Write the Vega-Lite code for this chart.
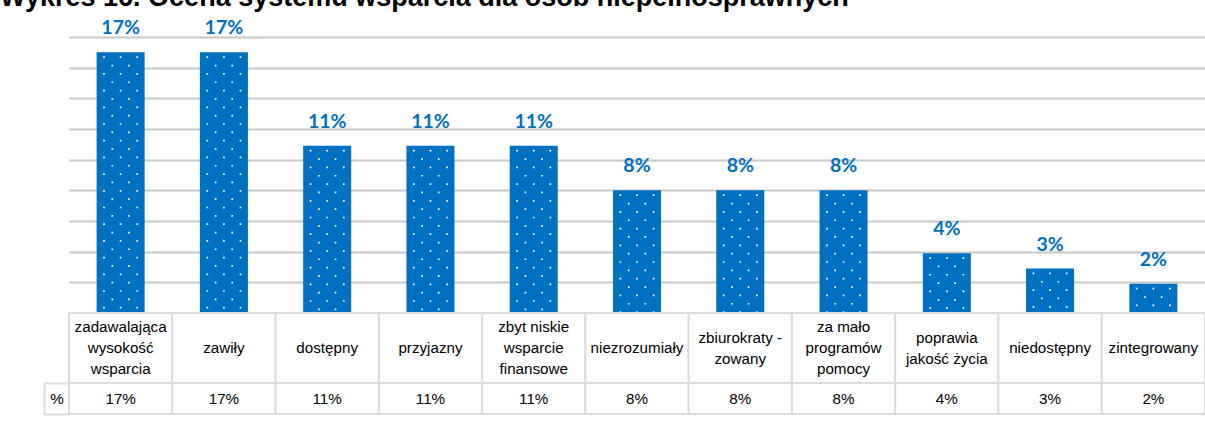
{
  "$schema": "https://vega.github.io/schema/vega-lite/v6.json",
  "padding": {"left": 0, "top": -16, "right": 0, "bottom": 9},
  "bounds": "flush",
  "title": {"text": "Wykres 16. Ocena systemu wsparcia dla osób niepełnosprawnych", "anchor": "start", "font": "Liberation Sans", "fontSize": 27, "fontWeight": "bold", "color": "#000000", "dx": -43, "offset": 6},
  "spacing": 0,
  "config": {"view": {"stroke": null}},
  "datasets": {
    "d": [
      {"kategoria": "zadawalająca|wysokość|wsparcia", "procent": 17, "etykieta": "17%"},
      {"kategoria": "zawiły", "procent": 17, "etykieta": "17%"},
      {"kategoria": "dostępny", "procent": 10.9, "etykieta": "11%"},
      {"kategoria": "przyjazny", "procent": 10.9, "etykieta": "11%"},
      {"kategoria": "zbyt niskie|wsparcie|finansowe", "procent": 10.9, "etykieta": "11%"},
      {"kategoria": "niezrozumiały", "procent": 8, "etykieta": "8%"},
      {"kategoria": "zbiurokraty -|zowany", "procent": 8, "etykieta": "8%"},
      {"kategoria": "za mało|programów|pomocy", "procent": 8, "etykieta": "8%"},
      {"kategoria": "poprawia|jakość życia", "procent": 3.9, "etykieta": "4%"},
      {"kategoria": "niedostępny", "procent": 2.9, "etykieta": "3%"},
      {"kategoria": "zintegrowany", "procent": 1.9, "etykieta": "2%"}
    ]
  },
  "vconcat": [
    {
      "width": 1136,
      "height": 276,
      "data": {"name": "d"},
      "encoding": {
        "x": {"field": "kategoria", "type": "nominal", "sort": null, "scale": {"paddingInner": 0, "paddingOuter": 0}, "axis": null}
      },
      "layer": [
        {
          "mark": {"type": "bar", "color": "#0070C0", "width": {"band": 0.465}},
          "encoding": {
            "y": {"field": "procent", "type": "quantitative", "scale": {"domain": [0, 18], "nice": false},
              "axis": {"values": [2, 4, 6, 8, 10, 12, 14, 16, 18], "tickCount": 10, "grid": true, "labels": false, "ticks": false, "domain": false, "title": null, "labelOverlap": false, "gridColor": "#c8c8c8", "gridWidth": 2}}
          }
        },
        {
          "mark": {"type": "rule", "color": "white", "strokeWidth": 1.7, "strokeDash": [1.7, 15], "strokeDashOffset": 12.7, "xOffset": -16.6},
          "encoding": {"y": {"field": "procent", "type": "quantitative"}, "y2": {"datum": 0}}
        },
        {
          "mark": {"type": "rule", "color": "white", "strokeWidth": 1.7, "strokeDash": [1.7, 15], "strokeDashOffset": 4.35, "xOffset": -8.3},
          "encoding": {"y": {"field": "procent", "type": "quantitative"}, "y2": {"datum": 0}}
        },
        {
          "mark": {"type": "rule", "color": "white", "strokeWidth": 1.7, "strokeDash": [1.7, 15], "strokeDashOffset": 12.7, "xOffset": 0},
          "encoding": {"y": {"field": "procent", "type": "quantitative"}, "y2": {"datum": 0}}
        },
        {
          "mark": {"type": "rule", "color": "white", "strokeWidth": 1.7, "strokeDash": [1.7, 15], "strokeDashOffset": 4.35, "xOffset": 8.3},
          "encoding": {"y": {"field": "procent", "type": "quantitative"}, "y2": {"datum": 0}}
        },
        {
          "mark": {"type": "rule", "color": "white", "strokeWidth": 1.7, "strokeDash": [1.7, 15], "strokeDashOffset": 12.7, "xOffset": 16.6},
          "encoding": {"y": {"field": "procent", "type": "quantitative"}, "y2": {"datum": 0}}
        },
        {
          "mark": {"type": "text", "font": "Lato", "fontSize": 19.5, "fontWeight": "bold", "color": "#0070C0", "baseline": "alphabetic", "dy": -18},
          "encoding": {"y": {"field": "procent", "type": "quantitative"}, "text": {"field": "etykieta"}}
        }
      ]
    },
    {
      "width": 1136,
      "height": 70,
      "data": {"name": "d"},
      "encoding": {
        "x": {"field": "kategoria", "type": "nominal", "sort": null, "scale": {"paddingInner": 0, "paddingOuter": 0}, "axis": null}
      },
      "layer": [
        {"mark": {"type": "rect", "fill": "white", "stroke": "#dcdcdc", "strokeWidth": 2}},
        {
          "transform": [{"filter": "length(split(datum.kategoria, '|')) == 1"}],
          "mark": {"type": "text", "font": "Liberation Sans", "fontSize": 15.2, "lineBreak": "|", "lineHeight": 21, "baseline": "middle", "color": "#000000"},
          "encoding": {"text": {"field": "kategoria"}}
        },
        {
          "transform": [{"filter": "length(split(datum.kategoria, '|')) == 2"}],
          "mark": {"type": "text", "font": "Liberation Sans", "fontSize": 15.2, "lineBreak": "|", "lineHeight": 21, "baseline": "middle", "dy": -10.5, "color": "#000000"},
          "encoding": {"text": {"field": "kategoria"}}
        },
        {
          "transform": [{"filter": "length(split(datum.kategoria, '|')) == 3"}],
          "mark": {"type": "text", "font": "Liberation Sans", "fontSize": 15.2, "lineBreak": "|", "lineHeight": 21, "baseline": "middle", "dy": -21, "color": "#000000"},
          "encoding": {"text": {"field": "kategoria"}}
        }
      ]
    },
    {
      "width": 1136,
      "height": 31,
      "data": {"name": "d"},
      "encoding": {
        "x": {"field": "kategoria", "type": "nominal", "sort": null, "scale": {"paddingInner": 0, "paddingOuter": 0}, "axis": null}
      },
      "layer": [
        {
          "mark": {"type": "rect", "fill": "white", "stroke": "#dcdcdc", "strokeWidth": 2},
          "encoding": {
            "y": {"datum": 0, "type": "quantitative", "scale": {"domain": [0, 1], "nice": false},
              "axis": {"orient": "left", "values": [0, 0.5, 1], "labelExpr": "datum.value == 0.5 ? '%' : ''", "offset": 25, "domain": true, "domainColor": "#dcdcdc", "domainWidth": 2, "ticks": true, "tickSize": -25, "tickColor": "#dcdcdc", "tickWidth": 2, "tickOpacity": {"condition": {"test": "datum.value == 0.5", "value": 0}, "value": 1}, "labelAlign": "center", "labelBaseline": "middle", "labelPadding": 12.5, "labelFont": "Liberation Sans", "labelFontSize": 15.2, "labelColor": "#000000", "labelFlush": false, "labelOverlap": false, "grid": false, "title": null}},
            "y2": {"datum": 1}
          }
        },
        {
          "mark": {"type": "text", "font": "Liberation Sans", "fontSize": 15.2, "baseline": "middle", "color": "#000000"},
          "encoding": {"text": {"field": "etykieta"}}
        }
      ]
    }
  ]
}
